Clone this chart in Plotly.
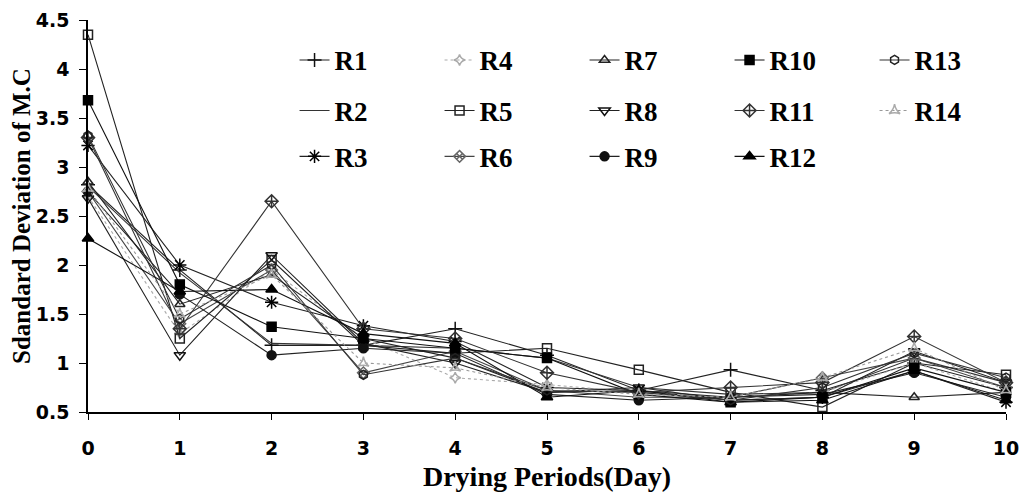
import plotly.graph_objects as go

days = [0, 1, 2, 3, 4, 5, 6, 7, 8, 9, 10]
series_names = ["R1", "R2", "R3", "R4", "R5", "R6", "R7",
                "R8", "R9", "R10", "R11", "R12", "R13", "R14"]

R1 = [2.82, 1.95, 1.18, 1.18, 1.35, 1.08, 0.72, 0.93, 0.72, 1.00, 0.75]
R2 = [2.80, 1.92, 1.20, 1.18, 1.15, 1.05, 0.75, 0.68, 0.70, 1.05, 0.80]
R3 = [3.22, 2.00, 1.62, 1.38, 1.22, 0.75, 0.72, 0.62, 0.65, 0.92, 0.60]
R4 = [2.70, 1.30, 1.95, 1.25, 0.85, 0.78, 0.70, 0.65, 0.70, 1.00, 0.70]
R5 = [4.35, 1.25, 2.05, 1.18, 1.10, 1.15, 0.93, 0.70, 0.55, 1.00, 0.88]
R6 = [2.75, 1.40, 1.95, 0.90, 1.12, 0.72, 0.65, 0.65, 0.85, 1.05, 0.75]
R7 = [2.85, 1.60, 1.90, 1.25, 1.05, 0.70, 0.72, 0.65, 0.70, 0.65, 0.70]
R8 = [2.68, 1.08, 2.10, 1.20, 1.00, 0.70, 0.75, 0.62, 0.65, 1.12, 0.80]
R9 = [2.75, 1.70, 1.08, 1.15, 1.10, 0.68, 0.62, 0.65, 0.68, 0.90, 0.65]
R10 = [3.68, 1.80, 1.37, 1.25, 1.15, 1.05, 0.68, 0.60, 0.65, 0.95, 0.70]
R11 = [3.30, 1.35, 2.65, 1.35, 1.25, 0.90, 0.70, 0.75, 0.80, 1.27, 0.80]
R12 = [2.27, 1.73, 1.75, 1.30, 1.20, 0.65, 0.72, 0.60, 0.62, 0.92, 0.62]
R13 = [3.32, 1.45, 2.00, 0.88, 1.05, 0.72, 0.70, 0.62, 0.75, 1.10, 0.85]
R14 = [2.78, 1.50, 1.90, 1.00, 0.95, 0.75, 0.68, 0.65, 0.85, 1.15, 0.72]

values = [R1, R2, R3, R4, R5, R6, R7, R8, R9, R10, R11, R12, R13, R14]

# style per series: (marker symbol, marker size, color, line dash, line color, mode)
styles = {
    "R1": ("cross-thin-open", 10, "#111", "solid", "#222", "lines+markers"),
    "R2": ("circle", 1, "#222", "solid", "#333", "lines"),
    "R3": ("asterisk-open", 11, "#000", "solid", "#222", "lines+markers"),
    "R4": ("star-diamond-open", 8, "#aaa", "dot", "#aaa", "lines+markers"),
    "R5": ("square-open", 9, "#222", "solid", "#222", "lines+markers"),
    "R6": ("diamond-x-open", 9, "#666", "solid", "#444", "lines+markers"),
    "R7": ("triangle-up-open", 9, "#222", "solid", "#222", "lines+markers"),
    "R8": ("triangle-down-open", 10, "#111", "solid", "#222", "lines+markers"),
    "R9": ("circle-x", 9, "#111", "solid", "#222", "lines+markers"),
    "R10": ("square", 9, "#000", "solid", "#111", "lines+markers"),
    "R11": ("diamond-cross-open", 10, "#333", "solid", "#333", "lines+markers"),
    "R12": ("triangle-up", 10, "#000", "solid", "#111", "lines+markers"),
    "R13": ("hexagon-open", 9, "#222", "solid", "#333", "lines+markers"),
    "R14": ("star-triangle-up-open", 8, "#aaa", "dot", "#999", "lines+markers"),
}

legend_of = {
    "R1": "legend", "R4": "legend", "R7": "legend", "R10": "legend", "R13": "legend",
    "R2": "legend2", "R5": "legend2", "R8": "legend2", "R11": "legend2", "R14": "legend2",
    "R3": "legend3", "R6": "legend3", "R9": "legend3", "R12": "legend3",
}

fig = go.Figure()
for name, vals in zip(series_names, values):
    sym, size, mcol, dash, lcol, mode = styles[name]
    fig.add_trace(go.Scatter(
        x=days, y=vals, name=name, mode=mode,
        line=dict(color=lcol, width=1.1, dash=dash),
        marker=dict(symbol=sym, size=size, color=mcol,
                    line=dict(color=mcol, width=1.5)),
        legend=legend_of[name], cliponaxis=False,
    ))

leg_font = dict(family="Liberation Serif", size=27, color="#000", weight="bold")
leg_common = dict(orientation="h", font=leg_font, entrywidth=100,
                  entrywidthmode="pixels", bgcolor="rgba(0,0,0,0)",
                  xanchor="left", yanchor="middle", x=0.225,
                  traceorder="normal")

fig.update_layout(
    width=1023, height=490,
    margin=dict(l=80, r=25, t=12, b=86, autoexpand=False),
    paper_bgcolor="white", plot_bgcolor="white",
    showlegend=True,
    legend=dict(**leg_common, y=0.897),
    legend2=dict(**leg_common, y=0.768),
    legend3=dict(**leg_common, y=0.651),
    xaxis=dict(
        range=[0, 10], dtick=1, tick0=0, showgrid=False, zeroline=False,
        showline=True, linecolor="#000", linewidth=1.5,
        ticks="outside", ticklen=6, tickcolor="#000",
        tickfont=dict(family="DejaVu Sans", size=19, color="#000", weight="bold"),
        ticklabelstandoff=12, ticklabeloverflow="allow",
        title=dict(text="Drying Periods(Day)",
                   font=dict(family="Liberation Serif", size=28, color="#000",
                             weight="bold"),
                   standoff=9),
    ),
    yaxis=dict(
        range=[0.5, 4.5], dtick=0.5, tick0=0.5, showgrid=False, zeroline=False,
        showline=True, linecolor="#000", linewidth=1.5,
        ticks="outside", ticklen=7, tickcolor="#000",
        tickfont=dict(family="DejaVu Sans", size=19, color="#000", weight="bold"),
        ticklabelstandoff=6, ticklabeloverflow="allow",
        title=dict(text="Sdandard Deviation of M.C",
                   font=dict(family="Liberation Serif", size=25, color="#000",
                             weight="bold"),
                   standoff=10),
    ),
)

fig.write_html("out.html")
